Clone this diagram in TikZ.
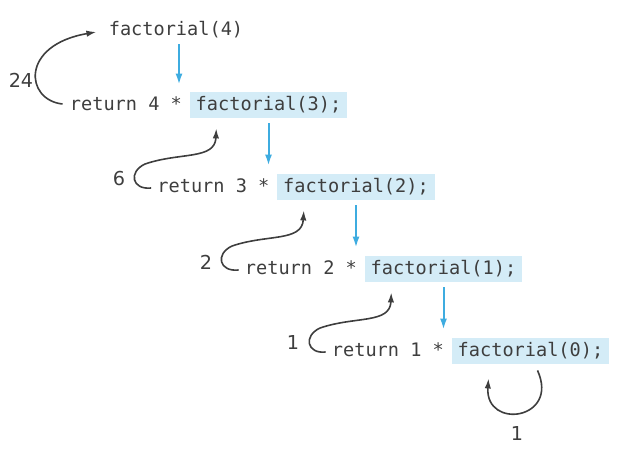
\documentclass[tikz,border=0pt]{standalone}
\usepackage{xcolor}
\usepackage{fontspec}
\setmonofont{DejaVu Sans Mono}
\setsansfont{DejaVu Sans}
\usepackage{tikz}
\usetikzlibrary{arrows.meta}

\definecolor{callbox}{RGB}{212,236,247}
\definecolor{callblue}{RGB}{62,172,224}
\definecolor{inkgray}{RGB}{62,62,62}

\tikzset{
  code/.style={font=\fontsize{9.3}{11}\ttfamily, text=inkgray, inner sep=0pt,
    text height=7pt, text depth=2pt},
  callbox/.style={code, fill=callbox, inner xsep=3pt, inner ysep=2pt},
  retval/.style={font=\fontsize{9.6}{11}\sffamily, text=inkgray, inner sep=0pt},
  callarrow/.style={callblue, line width=1pt, -{Latex[length=5.5pt,width=3.5pt]}},
  backarrow/.style={inkgray, line width=0.8pt, -{Latex[length=5pt,width=3.2pt]}}
}

\begin{document}
\begin{tikzpicture}[x=0.5pt,y=-0.5pt]
\useasboundingbox (0,0) rectangle (636,472);

\node[code] (f4) at (176,30) {factorial(4)};

\node[callbox] (c3) at (268.5,105) {factorial(3);};
\node[code, anchor=base east] (r4) at ([xshift=-3.5pt]c3.base west) {return 4 *};

\node[callbox] (c2) at (356,187) {factorial(2);};
\node[code, anchor=base east] (r3) at ([xshift=-3.5pt]c2.base west) {return 3 *};

\node[callbox] (c1) at (443.5,269) {factorial(1);};
\node[code, anchor=base east] (r2) at ([xshift=-3.5pt]c1.base west) {return 2 *};

\node[callbox] (c0) at (530.5,351) {factorial(0);};
\node[code, anchor=base east] (r1) at ([xshift=-3.5pt]c0.base west) {return 1 *};

% calls going down
\draw[callarrow] ([xshift=1.5pt,yshift=-2.5pt]f4.south) -- ([xshift=1.5pt,yshift=3.5pt]f4.south |- c3.north);
\draw[callarrow] ([yshift=-2.5pt]c3.south) -- ([yshift=4pt]c3.south |- c2.north);
\draw[callarrow] ([yshift=-2.5pt]c2.south) -- ([yshift=4pt]c2.south |- c1.north);
\draw[callarrow] ([yshift=-2.5pt]c1.south) -- ([yshift=4pt]c1.south |- c0.north);

% values coming back
\draw[backarrow] ([xshift=-3.5pt,yshift=0.5pt]r4.west) .. controls (25,100) and (20,45) .. ([xshift=-6pt,yshift=-1pt]f4.west);
\draw[backarrow] ([xshift=-3pt,yshift=-0.5pt]r3.west) .. controls (132,190) and (128,172) .. (145,164)
  .. controls (180,152) and (215,160) .. ([xshift=13.5pt,yshift=-5pt]c3.south west);
\draw[backarrow] ([xshift=-3pt,yshift=-0.5pt]r2.west) .. controls (219,272) and (215,254) .. (232,246)
  .. controls (267,234) and (302,242) .. ([xshift=13.5pt,yshift=-5pt]c2.south west);
\draw[backarrow] ([xshift=-3pt,yshift=-0.5pt]r1.west) .. controls (307,354) and (303,336) .. (320,328)
  .. controls (355,316) and (390,324) .. ([xshift=13.5pt,yshift=-5pt]c1.south west);
\draw[backarrow] ([xshift=3.5pt,yshift=-3pt]c0.south) .. controls (560,420) and (485,430) .. ([xshift=-21pt,yshift=-7pt]c0.south);

\node[retval] (v24) at (21,80) {24};
\node[retval] (v6) at (119,179) {6};
\node[retval] (v2) at (206,262) {2};
\node[retval] (v1) at (293,342) {1};
\node[retval] (v0) at (517,433) {1};

\end{tikzpicture}
\end{document}
